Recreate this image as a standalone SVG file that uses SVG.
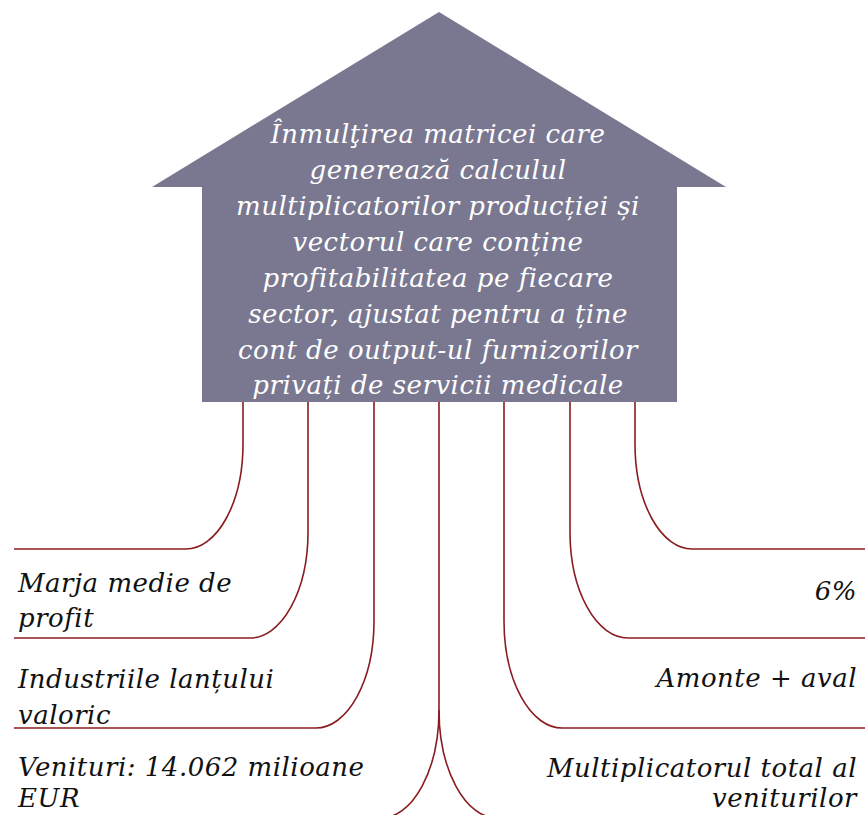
<svg xmlns="http://www.w3.org/2000/svg" width="865" height="815" viewBox="0 0 865 815">
<style>
.house{fill:#797890;}
.ht{font-family:"DejaVu Serif","Liberation Serif",serif;font-style:italic;font-size:26px;letter-spacing:0.5px;fill:#ffffff;text-anchor:middle;}
.lt{font-family:"DejaVu Serif","Liberation Serif",serif;font-style:italic;font-size:26px;letter-spacing:0.5px;fill:#111111;}
.rt{text-anchor:end;}
.con{fill:none;stroke:#8a1c1f;stroke-width:1.6;}
</style>
<rect width="865" height="815" fill="#ffffff"/>
<g id="house">
<path class="house" d="M439,12 L726,187 L677,187 L677,402 L202,402 L202,187 L152,187 Z"/>
<text class="ht" x="438" y="143">Înmulţirea matricei care</text>
<text class="ht" x="438" y="179">generează calculul</text>
<text class="ht" x="438" y="215">multiplicatorilor producției și</text>
<text class="ht" x="438" y="251">vectorul care conține</text>
<text class="ht" x="438" y="287">profitabilitatea pe fiecare</text>
<text class="ht" x="438" y="323">sector, ajustat pentru a ține</text>
<text class="ht" x="438" y="359">cont de output-ul furnizorilor</text>
<text class="ht" x="438" y="394">privați de servicii medicale</text>
</g>
<g id="connectors">
<path class="con" d="M243,402 V444 A57,105 0 0 1 186,549 H14"/>
<path class="con" d="M308,402 V532 A58,106 0 0 1 250,638 H14"/>
<path class="con" d="M374,402 V621 A58,107 0 0 1 316,728 H14"/>
<path class="con" d="M439,402 V710 A58,108 0 0 1 381,818"/>
<path class="con" d="M439,710 A58,108 0 0 0 497,818"/>
<path class="con" d="M504,402 V621 A58,107 0 0 0 562,728 H865"/>
<path class="con" d="M570,402 V532 A58,106 0 0 0 628,638 H865"/>
<path class="con" d="M635,402 V444 A57,105 0 0 0 692,549 H865"/>
</g>
<g id="label-marja">
<text class="lt" x="18" y="592">Marja medie de</text>
<text class="lt" x="18" y="627">profit</text>
</g>
<g id="label-industrii">
<text class="lt" x="18" y="688">Industriile lanțului</text>
<text class="lt" x="18" y="724">valoric</text>
</g>
<g id="label-venituri">
<text class="lt" x="18" y="776">Venituri: 14.062 milioane</text>
<text class="lt" x="18" y="807">EUR</text>
</g>
<g id="label-6">
<text class="lt rt" x="857" y="600">6%</text>
</g>
<g id="label-amonte">
<text class="lt rt" x="857" y="687">Amonte + aval</text>
</g>
<g id="label-multiplicator">
<text class="lt rt" x="857" y="777">Multiplicatorul total al</text>
<text class="lt rt" x="857" y="807">veniturilor</text>
</g>
</svg>
